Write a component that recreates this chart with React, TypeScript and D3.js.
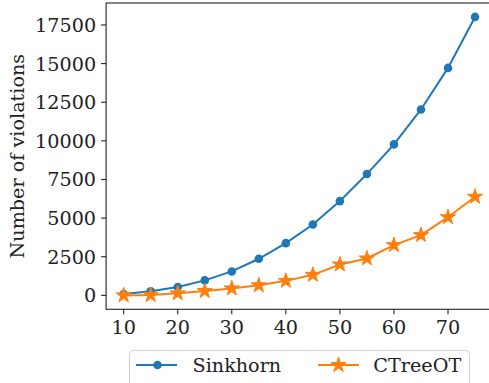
import React, { useEffect, useRef } from 'react';
import * as d3 from 'd3';

const sizes = [10, 15, 20, 25, 30, 35, 40, 45, 50, 55, 60, 65, 70, 75];
const sinkhorn = [90, 260, 540, 970, 1550, 2370, 3380, 4590, 6100, 7850, 9770, 12030, 14720, 18020];
const ctreeot = [0, 20, 130, 280, 450, 650, 940, 1330, 2000, 2390, 3250, 3900, 5060, 6380];
const xTicks = [10, 20, 30, 40, 50, 60, 70];
const yTicks = [0, 2500, 5000, 7500, 10000, 12500, 15000, 17500];

const W = 489, H = 383;
const FONT = 'DejaVu Serif';
const FS = 19.2;

function App() {
    const ref = useRef<SVGSVGElement>(null);

    useEffect(() => {
        const svg = d3.select(ref.current);
        svg.selectAll('*').remove();

        const left = 106.1, right = 492.6, top = 3, bottom = 309.3;

        const xmin = d3.min(sizes)!, xmax = d3.max(sizes)!;
        const xm = (xmax - xmin) * 0.05;
        const x = d3.scaleLinear().domain([xmin - xm, xmax + xm]).range([left, right]);

        const all = sinkhorn.concat(ctreeot);
        const ymin = d3.min(all)!, ymax = d3.max(all)!;
        const ym = (ymax - ymin) * 0.05;
        const y = d3.scaleLinear().domain([ymin - ym, ymax + ym]).range([bottom, top]);

        // axis frame
        svg.append('rect')
            .attr('x', left).attr('y', top)
            .attr('width', right - left).attr('height', bottom - top)
            .attr('fill', 'none').attr('stroke', '#222').attr('stroke-width', 1.1);

        // x ticks
        const xg = svg.append('g');
        xTicks.forEach(t => {
            xg.append('line')
                .attr('x1', x(t)).attr('x2', x(t))
                .attr('y1', bottom).attr('y2', bottom + 5)
                .attr('stroke', '#222').attr('stroke-width', 1.1);
            xg.append('text')
                .attr('x', x(t)).attr('y', bottom + 25)
                .attr('text-anchor', 'middle')
                .attr('font-family', FONT).attr('font-size', FS)
                .attr('fill', '#222')
                .text(t);
        });

        // y ticks
        const yg = svg.append('g');
        yTicks.forEach(t => {
            yg.append('line')
                .attr('x1', left - 5).attr('x2', left)
                .attr('y1', y(t)).attr('y2', y(t))
                .attr('stroke', '#222').attr('stroke-width', 1.1);
            yg.append('text')
                .attr('x', left - 10).attr('y', y(t))
                .attr('dy', '0.36em')
                .attr('text-anchor', 'end')
                .attr('font-family', FONT).attr('font-size', FS)
                .attr('fill', '#222')
                .text(t);
        });

        svg.append('text')
            .attr('transform', 'translate(24,' + (top + bottom) / 2 + ') rotate(-90)')
            .attr('text-anchor', 'middle')
            .attr('font-family', FONT).attr('font-size', FS)
            .attr('fill', '#222')
            .text('Number of violations');

        const line = d3.line<number>()
            .x((d, i) => x(sizes[i]))
            .y(d => y(d));

        const star = d3.symbol().type(d3.symbolStar).size(72);

        // Sinkhorn
        svg.append('path')
            .datum(sinkhorn)
            .attr('d', line)
            .attr('fill', 'none').attr('stroke', '#1f77b4').attr('stroke-width', 2);
        svg.selectAll('.dot')
            .data(sinkhorn)
            .enter().append('circle')
            .attr('cx', (d, i) => x(sizes[i]))
            .attr('cy', d => y(d))
            .attr('r', 4.3)
            .attr('fill', '#1f77b4');

        // CTreeOT
        svg.append('path')
            .datum(ctreeot)
            .attr('d', line)
            .attr('fill', 'none').attr('stroke', '#ff7f0e').attr('stroke-width', 2);
        svg.selectAll('.star')
            .data(ctreeot)
            .enter().append('path')
            .attr('d', star)
            .attr('transform', (d, i) => 'translate(' + x(sizes[i]) + ',' + y(d) + ')')
            .attr('fill', '#ff7f0e').attr('stroke', '#ff7f0e').attr('stroke-width', 1);

        // legend
        const lg = svg.append('g');
        lg.append('rect')
            .attr('x', 129.5).attr('y', 350.5)
            .attr('width', 340).attr('height', 50)
            .attr('rx', 4)
            .attr('fill', 'white').attr('fill-opacity', 0.8)
            .attr('stroke', '#d0d0d0').attr('stroke-width', 1);

        const ly = 365;
        lg.append('line')
            .attr('x1', 136).attr('x2', 177).attr('y1', ly).attr('y2', ly)
            .attr('stroke', '#1f77b4').attr('stroke-width', 2);
        lg.append('circle')
            .attr('cx', 157.5).attr('cy', ly).attr('r', 4.3)
            .attr('fill', '#1f77b4');
        lg.append('text')
            .attr('x', 192.5).attr('y', ly).attr('dy', '0.36em')
            .attr('font-family', FONT).attr('font-size', FS).attr('fill', '#222')
            .text('Sinkhorn');

        lg.append('line')
            .attr('x1', 318).attr('x2', 359).attr('y1', ly).attr('y2', ly)
            .attr('stroke', '#ff7f0e').attr('stroke-width', 2);
        lg.append('path')
            .attr('d', star)
            .attr('transform', 'translate(338.5,' + ly + ')')
            .attr('fill', '#ff7f0e').attr('stroke', '#ff7f0e').attr('stroke-width', 1);
        lg.append('text')
            .attr('x', 373.3).attr('y', ly).attr('dy', '0.36em')
            .attr('font-family', FONT).attr('font-size', FS).attr('fill', '#222')
            .text('CTreeOT');
    }, []);

    return (
        <svg ref={ref} width={W} height={H}
            style={{ position: 'absolute', left: 0, top: 0, background: 'white' }}></svg>
    );
}

export default App;
